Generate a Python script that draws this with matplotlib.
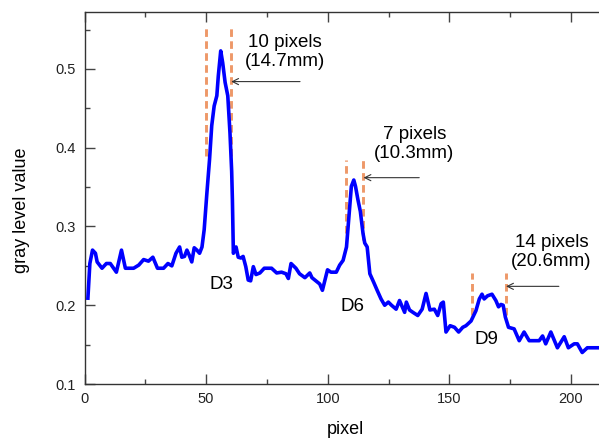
import matplotlib
matplotlib.use("Agg")
import matplotlib.pyplot as plt
from matplotlib.ticker import MultipleLocator

plt.rcParams['font.family'] = ['Liberation Sans', 'DejaVu Sans']

# ---- data ----
pixel = [1.4, 2.2, 3.3, 4.5, 5.2, 7.2, 9, 10.6, 13.1, 15.2, 16.8, 20.2, 22.3, 24.3, 26.3, 28.1,
         30, 32.5, 34.3, 35.9, 37.6, 39.1, 40, 41.1, 42.1, 43, 44.1, 45.1, 46.2, 47.3, 48.3, 49.2,
         50.3, 51.4, 52.3, 53.3, 54.4, 55, 56, 56.8, 57.8, 58.9, 59.8, 60.5, 60.8, 61.2, 62.3, 63.2,
         64.3, 65.2, 66.3, 67.3, 68.3, 69.4, 70.5, 72.1, 73.9, 76.9, 79, 81, 82.8, 83.8, 84.9, 86.9,
         88.4, 90.6, 92.6, 93.5, 94.7, 96.7, 97.8, 99.9, 101.3, 103.5, 104.9, 106.3, 107.7, 108.7,
         109.7, 110.7, 111.4, 112.4, 113.4, 114.5, 115.2, 116.2, 117.3, 118.9, 120.3, 121.9, 123.4,
         124.9, 126.2, 128.1, 129.5, 130.6, 131.6, 132.3, 133.6, 135, 137, 138.8, 140.4, 142, 143.8,
         145.2, 146.6, 147.5, 148.6, 150.3, 152.1, 153.8, 155.5, 156.8, 158.9, 160.9, 162.3, 163.4,
         164.3, 165.7, 167.5, 169.1, 170.2, 171.2, 172.1, 173, 174.3, 176.6, 178.7, 180.7, 182.8,
         184.2, 186.9, 188.3, 189.6, 191.7, 194.4, 197.2, 198.9, 201.3, 202.6, 204.6, 206.7, 211]
gray = [0.209, 0.253, 0.270, 0.266, 0.255, 0.247, 0.253, 0.253, 0.242, 0.270, 0.247, 0.247, 0.251,
        0.258, 0.256, 0.261, 0.247, 0.247, 0.253, 0.250, 0.266, 0.274, 0.261, 0.262, 0.270, 0.264,
        0.255, 0.273, 0.270, 0.266, 0.274, 0.296, 0.342, 0.385, 0.428, 0.453, 0.466, 0.491, 0.523,
        0.508, 0.483, 0.466, 0.419, 0.370, 0.334, 0.266, 0.274, 0.261, 0.260, 0.262, 0.249, 0.232,
        0.231, 0.249, 0.239, 0.241, 0.247, 0.247, 0.241, 0.242, 0.240, 0.234, 0.253, 0.247, 0.240,
        0.235, 0.241, 0.235, 0.232, 0.227, 0.219, 0.245, 0.242, 0.242, 0.251, 0.257, 0.274, 0.312,
        0.351, 0.359, 0.351, 0.334, 0.319, 0.291, 0.279, 0.274, 0.240, 0.229, 0.219, 0.208, 0.200,
        0.204, 0.200, 0.195, 0.206, 0.198, 0.191, 0.204, 0.194, 0.191, 0.187, 0.195, 0.215, 0.194,
        0.195, 0.187, 0.202, 0.204, 0.166, 0.174, 0.172, 0.166, 0.172, 0.174, 0.180, 0.193, 0.208,
        0.214, 0.208, 0.212, 0.214, 0.206, 0.198, 0.201, 0.200, 0.185, 0.172, 0.170, 0.155, 0.166,
        0.155, 0.155, 0.155, 0.161, 0.151, 0.166, 0.146, 0.160, 0.146, 0.151, 0.151, 0.140, 0.146,
        0.146]

# defect boundary markers (x position, y bottom, y top)
marker_x = [49.9, 60.2, 107.5, 114.6, 159.1, 173.2]
marker_ylo = [0.389, 0.389, 0.292, 0.283, 0.188, 0.188]
marker_yhi = [0.556, 0.556, 0.385, 0.387, 0.241, 0.241]

defect_names = ['D3', 'D6', 'D9']
width_labels = ['10 pixels\n(14.7mm)', '7 pixels\n(10.3mm)', '14 pixels\n(20.6mm)']

# ---- figure ----
fig = plt.figure(figsize=(5.99, 4.40), dpi=100)
L, B = 84.5 / 599, 1 - 384 / 440
ax = fig.add_axes([L, B, 1 - L, (384 - 11.5) / 440])

ax.plot(pixel, gray, color='#0000FF', lw=2.6, solid_joinstyle='round', zorder=3)

for xm, lo, hi in zip(marker_x, marker_ylo, marker_yhi):
    ax.plot([xm, xm], [lo, hi], color='#EE9868', lw=2.1, dashes=(2.6, 1.5), zorder=2)

ax.set_xlim(0, 211.5)
ax.set_ylim(0.1, 0.573)

# defect names
ax.text(56.4, 0.226, defect_names[0], fontsize=13.5, ha='center', va='center')
ax.text(110.2, 0.199, defect_names[1], fontsize=13.5, ha='center', va='center')
ax.text(165.3, 0.157, defect_names[2], fontsize=13.5, ha='center', va='center')

# width annotations
ax.text(82.4, 0.521, width_labels[0], fontsize=13.5, ha='center', va='center', linespacing=1.15)
ax.text(135.6, 0.405, width_labels[1], fontsize=13.5, ha='center', va='center', linespacing=1.15)
ax.text(192.0, 0.268, width_labels[2], fontsize=13.5, ha='center', va='center', linespacing=1.15)

arrow_kw = dict(arrowstyle='->', color='#333333', lw=0.8, shrinkA=0, shrinkB=0,
                mutation_scale=11)
ax.annotate('', xy=(60.3, 0.484), xytext=(88.6, 0.484), arrowprops=arrow_kw)
ax.annotate('', xy=(114.7, 0.362), xytext=(137.6, 0.362), arrowprops=arrow_kw)
ax.annotate('', xy=(173.3, 0.224), xytext=(195.0, 0.224), arrowprops=arrow_kw)

# axes styling
for s in ['left', 'bottom', 'top']:
    ax.spines[s].set_color('#333333')
    ax.spines[s].set_linewidth(1.0)
ax.spines['right'].set_visible(False)

ax.xaxis.set_major_locator(MultipleLocator(50))
ax.xaxis.set_minor_locator(MultipleLocator(25))
ax.yaxis.set_major_locator(MultipleLocator(0.1))
ax.yaxis.set_minor_locator(MultipleLocator(0.05))
ax.tick_params(which='both', direction='in', top=True, right=False, color='#444444',
               width=1.0, labelsize=10.5, labelcolor='#222222')
ax.tick_params(which='major', length=7)
ax.tick_params(which='minor', length=3.5)
ax.tick_params(axis='y', pad=6.5)
ax.tick_params(axis='x', pad=6)
ax.set_yticks([0.1, 0.2, 0.3, 0.4, 0.5])
ax.set_yticklabels(['0.1', '0.2', '0.3', '0.4', '0.5'])

ax.set_xlabel('pixel', fontsize=13, va='center')
ax.xaxis.set_label_coords(0.508, -0.121)
ax.set_ylabel('gray level value', fontsize=13, va='center')
ax.yaxis.set_label_coords(-0.1234, 0.467)

fig.savefig('out.png', dpi=100)
